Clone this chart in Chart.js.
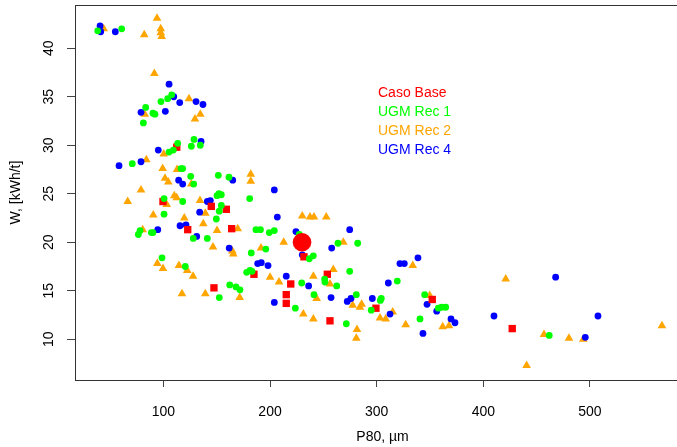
<!DOCTYPE html>
<html>
<head>
<meta charset="utf-8">
<script src="https://cdn.jsdelivr.net/npm/chart.js@4/dist/chart.umd.min.js"></script>
<style>
html,body{margin:0;padding:0;overflow:hidden;background:#fff;}
#wrap{width:700px;height:447px;}
</style>
</head>
<body>
<div id="wrap"><canvas id="c" width="700" height="447"></canvas></div>
<script>
// ---- Data (P80 [µm], W [kWh/t]) ----
const casoBase = [[112.5,29.8],[99.6,24.2],[144.9,23.7],[159,23.4],[122.8,21.3],[164,21.4],[147.4,15.3],[184.9,16.7],[231.8,18.5],[253.7,16.7],[219.4,15.7],[215.2,14.6],[215.2,13.7],[256.2,11.9],[299.3,13.2],[352.1,14.1],[427.1,11.1]];
const casoBaseMean = [[230,20.0]];
const ugmRec1 = [[38.4,41.8],[60.9,42.0],[107.8,35.2],[104,34.8],[97.7,34.5],[83.4,33.9],[90.2,33.3],[92.1,33.2],[81.2,32.3],[105.3,29.3],[109.3,29.5],[113.4,30.2],[128.7,30.6],[126.2,29.9],[134.6,30.0],[70.8,28.1],[116.5,27.6],[118.1,27.6],[125.6,26.8],[128.4,26.0],[151.5,26.9],[161.5,26.7],[100.6,24.5],[118.1,24.2],[150.3,24.8],[152.1,25.0],[154.3,24.9],[154.3,23.8],[152.4,23.2],[149.6,22.4],[180.9,24.5],[100.6,22.9],[88.7,21.0],[90.2,21.0],[78.1,21.2],[76.5,20.8],[128,20.4],[141.2,20.4],[186.8,21.3],[191,21.3],[199.3,21.0],[182.4,18.9],[196,19.3],[98.7,18.4],[120.5,17.5],[178.1,16.9],[181.2,17.1],[183.1,17.0],[162.2,15.6],[168.1,15.4],[171.8,15.1],[152.4,14.3],[204,21.2],[227.4,20.8],[263.7,19.9],[282.2,19.9],[236.8,18.3],[240.6,18.6],[274.7,17.0],[229.7,15.8],[251.2,16.2],[251.5,15.9],[262.5,15.5],[319.3,16.0],[241.2,14.6],[223.7,13.2],[280.9,14.6],[304.3,14.2],[303.4,14.0],[294.9,13.0],[340.6,12.1],[271.5,11.6],[345,14.6],[357.8,13.2],[360.9,13.3],[364.7,13.3],[461.8,10.4]];
const ugmRec2 = [[44,42.0],[94,43.1],[82,41.4],[97.5,42.0],[97.5,41.6],[98.4,41.2],[91.5,37.4],[124,34.8],[134.6,33.2],[129.6,32.7],[82.5,33.2],[100.3,29.1],[84,28.5],[99.3,27.6],[112.8,27.5],[101.5,26.6],[104.6,26.2],[126.2,26.0],[181.9,27.0],[181.9,26.3],[79,25.4],[66.5,24.2],[110.2,24.8],[112.5,24.6],[103.1,23.9],[134.3,24.3],[139.3,23.0],[90.5,22.8],[119.6,22.5],[137.4,21.9],[150.3,21.2],[169.7,21.4],[80.6,21.3],[146.5,19.5],[191.5,19.4],[164.6,19.1],[165.5,18.8],[94.3,17.8],[99.6,17.3],[114.6,17.6],[122.4,17.1],[127.8,16.5],[200,16.4],[171.5,14.3],[117.4,14.7],[139.3,14.7],[230.2,22.7],[237.5,22.6],[241.2,22.6],[252.7,22.6],[212.8,20.0],[268.7,20.0],[333.8,17.6],[259.3,17.2],[208.4,15.9],[240.6,16.5],[256.2,15.7],[243.7,14.2],[231.2,12.6],[240.6,12.1],[277.5,13.5],[285.9,13.6],[284.3,13.3],[315,12.8],[303.1,12.2],[308.4,12.1],[327.2,11.5],[281.5,11.0],[280.9,10.1],[349.7,14.5],[361.9,11.3],[367.8,11.4],[421,16.2],[456.9,10.5],[480.3,10.1],[493.7,10.0],[440.6,7.3],[567.5,11.4]];
const ugmRec4 = [[40.6,42.3],[41.2,41.7],[54.9,41.7],[105.3,36.3],[109.7,35.0],[115.3,34.4],[130.6,34.5],[137.1,34.2],[79,33.4],[101.8,33.5],[95.2,29.5],[135.3,30.4],[58.4,27.9],[79,28.3],[114.3,26.4],[118.1,26.0],[165,26.4],[141.2,24.2],[144,24.3],[134,23.1],[115.6,21.7],[121.2,21.8],[94.7,21.3],[131.2,20.6],[161.7,19.4],[188.4,17.8],[191.8,17.9],[198.1,17.6],[204,25.4],[206.8,22.6],[224.3,21.1],[274.7,21.3],[257.8,19.4],[230.2,18.7],[338.7,18.4],[321.8,17.8],[325.9,17.8],[215.2,16.5],[236.2,15.5],[310.9,15.8],[204,13.8],[257.2,14.3],[275.9,14.2],[272.4,13.9],[295.9,14.2],[312.5,12.6],[343.4,10.6],[347.2,13.6],[356.3,12.9],[369.7,12.1],[373.4,11.7],[467.8,16.4],[410,12.4],[507.5,12.4],[495.6,10.2]];
const seriesNames = ['Caso Base','UGM Rec 1','UGM Rec 2','UGM Rec 4'];
const seriesColors = ['#ff0000','#00ff00','#ffa500','#0000ff'];
const xTicks = [100,200,300,400,500];
const yTicks = [10,15,20,25,30,35,40];
const xTitle = 'P80, µm';
const yTitle = 'W, [kWh/t]';

const FONT = '"Liberation Sans", Arial, sans-serif';
const toPts = a => a.map(p => ({x:p[0], y:p[1]}));

const boxPlugin = {
  id:'box',
  afterDraw(chart){
    const ctx = chart.ctx, a = chart.chartArea;
    ctx.save();
    ctx.strokeStyle = '#333'; ctx.lineWidth = 1;
    ctx.strokeRect(Math.round(a.left)+0.5, Math.round(a.top)+0.5, Math.round(a.right-a.left), Math.round(a.bottom-a.top));
    // rotated y tick labels
    const ys = chart.scales.y;
    ctx.fillStyle = '#000';
    ctx.font = '14px ' + FONT;
    ctx.textAlign = 'center'; ctx.textBaseline = 'middle';
    yTicks.forEach(v => {
      const py = ys.getPixelForValue(v);
      ctx.save(); ctx.translate(49, py); ctx.rotate(-Math.PI/2);
      ctx.fillText(String(v), 0, 0); ctx.restore();
    });
    // legend (text only)
    ctx.textAlign = 'left';
    seriesNames.forEach((n,i) => {
      ctx.fillStyle = seriesColors[i];
      ctx.fillText(n, 378, 93 + i*19);
    });
    ctx.restore();
  }
};

new Chart(document.getElementById('c'), {
  type:'scatter',
  data:{
    datasets:[
      {label:'Caso Base', data:toPts(casoBaseMean), backgroundColor:seriesColors[0], pointStyle:'circle', pointRadius:9.3, pointBorderWidth:0, order:0},
      {label:seriesNames[1], data:toPts(ugmRec1), backgroundColor:seriesColors[1], pointStyle:'circle', pointRadius:3.4, pointBorderWidth:0, order:1},
      {label:seriesNames[0], data:toPts(casoBase), backgroundColor:seriesColors[0], pointStyle:'rect', pointRadius:5.2, pointBorderWidth:0, order:2},
      {label:seriesNames[3], data:toPts(ugmRec4), backgroundColor:seriesColors[3], pointStyle:'circle', pointRadius:3.4, pointBorderWidth:0, order:3},
      {label:seriesNames[2], data:toPts(ugmRec2), backgroundColor:seriesColors[2], pointStyle:'triangle', pointRadius:5, pointBorderWidth:0, order:4}
    ]
  },
  options:{
    responsive:false, animation:false, devicePixelRatio:1,
    layout:{padding:{top:5,right:10,left:0,bottom:0}, autoPadding:false},
    plugins:{legend:{display:false}, tooltip:{enabled:false}},
    scales:{
      x:{
        type:'linear', min:17.1, max:593.8,
        afterBuildTicks: s => { s.ticks = xTicks.map(v => ({value:v})); },
        afterFit: s => { s.height = 67; },
        grid:{drawOnChartArea:false, drawTicks:true, tickLength:7, color:'#444'},
        border:{display:false},
        ticks:{color:'#000', font:{family:FONT, size:14}, padding:17, maxRotation:0, autoSkip:false},
        title:{display:true, text:xTitle, color:'#000', font:{family:FONT, size:14}, padding:{top:0,bottom:1.6}}
      },
      y:{
        type:'linear', min:5.80, max:44.46,
        afterBuildTicks: s => { s.ticks = yTicks.map(v => ({value:v})); },
        afterFit: s => { s.width = 75; },
        grid:{drawOnChartArea:false, drawTicks:true, tickLength:8, color:'#444'},
        border:{display:false},
        ticks:{display:false},
        title:{display:true, text:yTitle, color:'#000', font:{family:FONT, size:14}, padding:{top:7.6,bottom:0}}
      }
    }
  },
  plugins:[boxPlugin]
});
</script>
</body>
</html>
